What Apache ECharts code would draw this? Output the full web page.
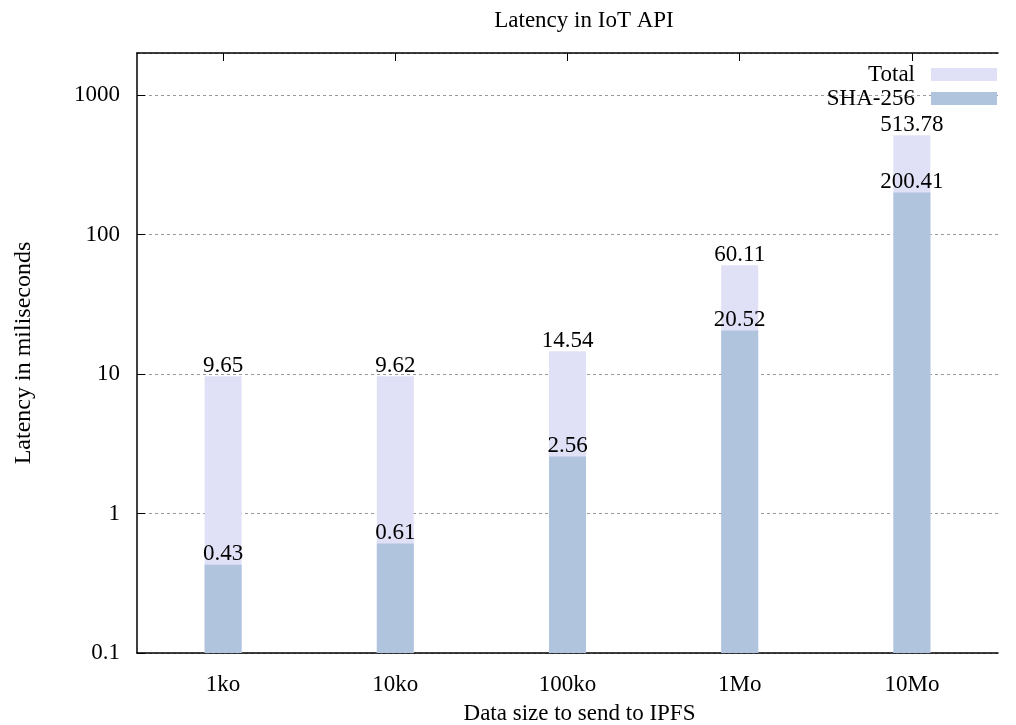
<!DOCTYPE html>
<html>
<head>
<meta charset="utf-8">
<script src="https://cdn.jsdelivr.net/npm/echarts@6/dist/echarts.min.js"></script>
<style>
  html, body { margin: 0; padding: 0; background: #fff; }
  #chart { width: 1016px; height: 725px; }
</style>
</head>
<body>
<div id="chart"></div>
<script>
// data
const categories = ["1ko", "10ko", "100ko", "1Mo", "10Mo"];
const totalValues = [9.65, 9.62, 14.54, 60.11, 513.78];
const shaValues = [0.43, 0.61, 2.56, 20.52, 200.41];
const seriesNames = ["Total", "SHA-256"];
const yMin = 0.1;
const yMax = 2000;

const serif = "Liberation Serif";
const chart = echarts.init(document.getElementById("chart"));

// bars on a log axis start from 1 in echarts, so draw them from the axis bottom
function barRenderer(color) {
  return function (params, api) {
    const i = api.value(0);
    const v = api.value(1);
    const top = api.coord([i, v]);
    const base = api.coord([i, yMin]);
    const w = 37;
    return {
      type: "group",
      children: [
        {
          type: "rect",
          shape: { x: top[0] - w / 2, y: top[1], width: w, height: base[1] - top[1] },
          style: { fill: color }
        },
        {
          type: "text",
          z2: 10,
          style: {
            text: v.toFixed(2),
            x: top[0],
            y: top[1] + 1,
            align: "center",
            verticalAlign: "bottom",
            fontFamily: serif,
            fontSize: 23,
            fill: "#000"
          }
        }
      ]
    };
  };
}

chart.setOption({
  backgroundColor: "#fff",
  animation: false,
  textStyle: { fontFamily: serif },
  title: {
    text: "Latency in IoT API",
    left: 579,
    top: 4,
    textAlign: "center",
    textStyle: { fontFamily: serif, fontSize: 23, fontWeight: "normal", color: "#000" }
  },
  legend: {
    data: seriesNames,
    orient: "vertical",
    right: 14,
    top: 58,
    align: "right",
    itemWidth: 66,
    itemHeight: 13,
    itemGap: 1,
    icon: "rect",
    textStyle: { fontFamily: serif, fontSize: 23, color: "#000", padding: [0, 11, 0, 0] }
  },
  grid: { left: 137, right: 18, top: 53, bottom: 72, outerBoundsMode: "none", containLabel: false },
  xAxis: [
    {
      type: "category",
      data: categories,
      name: "Data size to send to IPFS",
      nameLocation: "middle",
      nameGap: 49,
      nameTextStyle: { fontFamily: serif, fontSize: 23, color: "#000", padding: [0, 0, 0, 24] },
      axisLine: { lineStyle: { color: "#000", width: 1.5 } },
      axisTick: { show: true, alignWithLabel: true, inside: true, length: 8, lineStyle: { color: "#000" } },
      axisLabel: { fontFamily: serif, fontSize: 23, color: "#000", margin: 20 }
    },
    {
      type: "category",
      data: categories,
      position: "top",
      axisLine: { lineStyle: { color: "#000", width: 1.5 } },
      axisTick: { show: true, alignWithLabel: true, inside: true, length: 8, lineStyle: { color: "#000" } },
      axisLabel: { show: false }
    }
  ],
  yAxis: {
    type: "log",
    logBase: 10,
    min: yMin,
    max: yMax,
    name: "Latency in miliseconds",
    nameLocation: "middle",
    nameGap: 101,
    nameTextStyle: { fontFamily: serif, fontSize: 24, color: "#000" },
    axisLine: { show: true, lineStyle: { color: "#000", width: 1.5 } },
    axisTick: { show: true, inside: true, length: 8, lineStyle: { color: "#000" } },
    axisLabel: {
      fontFamily: serif, fontSize: 23, color: "#000", margin: 17,
      showMaxLabel: false,
      formatter: function (v) { return v >= 1 ? String(Math.round(v)) : String(v); }
    },
    splitLine: { show: true, lineStyle: { color: "#999", type: [3, 3], width: 1 } }
  },
  series: [
    {
      name: seriesNames[0],
      type: "custom",
      renderItem: barRenderer("#e0e0f6"),
      itemStyle: { color: "#e0e0f6" },
      encode: { x: 0, y: 1 },
      data: totalValues.map(function (v, i) { return [i, v]; }),
      z: 2
    },
    {
      name: seriesNames[1],
      type: "custom",
      renderItem: barRenderer("#b0c4de"),
      itemStyle: { color: "#b0c4de" },
      encode: { x: 0, y: 1 },
      data: shaValues.map(function (v, i) { return [i, v]; }),
      z: 3
    }
  ]
});
</script>
</body>
</html>
